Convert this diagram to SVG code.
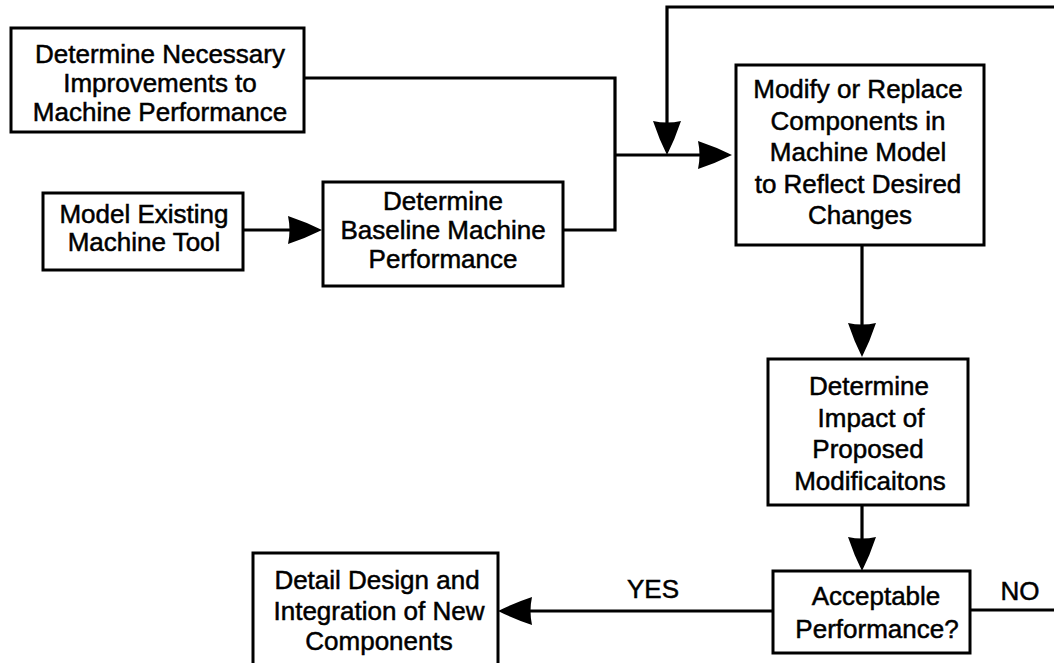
<svg xmlns="http://www.w3.org/2000/svg" width="1054" height="663" viewBox="0 0 1054 663">
  <style>
    .box { fill: #fff; stroke: #000; stroke-width: 3; }
    .lbl { font-family: "Liberation Sans", Arial, Helvetica, sans-serif; font-size: 26px; fill: #000; stroke: #000; stroke-width: 0.5; text-anchor: middle; }
    .wire { fill: none; stroke: #000; stroke-width: 3.2; }
  </style>
  <defs>
    <!-- filled arrowhead; refX sits 4px behind the tip so the line end is hidden -->
    <marker id="arrow" markerUnits="userSpaceOnUse" markerWidth="34" markerHeight="28" viewBox="0 0 34 28" refX="30" refY="14" orient="auto">
      <path d="M0,0 Q18,6 34,14 Q18,22 0,28 Q3,14 0,0 Z" fill="#000"/>
    </marker>
  </defs>
  <rect width="1054" height="663" fill="#fff"/>

  <g id="connectors">
    <!-- improvements + baseline merge into the modify step -->
    <path class="wire" d="M304,78 H615 V230 H563"/>
    <path class="wire" d="M615,155 H728" marker-end="url(#arrow)"/>
    <!-- feedback loop from the NO branch -->
    <path class="wire" d="M1056,7 H667 V151" marker-end="url(#arrow)"/>
    <!-- model existing -> baseline -->
    <path class="wire" d="M243,230 H318" marker-end="url(#arrow)"/>
    <!-- modify -> impact -->
    <path class="wire" d="M862,245 V353" marker-end="url(#arrow)"/>
    <!-- impact -> acceptable -->
    <path class="wire" d="M862,505 V567" marker-end="url(#arrow)"/>
    <!-- YES branch -->
    <path class="wire" d="M773,611 H502" marker-end="url(#arrow)"/>
    <!-- NO branch -->
    <path class="wire" d="M970,610 H1056"/>
    <text class="lbl" x="653" y="598">YES</text>
    <text class="lbl" x="1020" y="600">NO</text>
  </g>

  <g id="node-improvements">
    <rect class="box" x="11" y="28" width="293" height="104"/>
    <text class="lbl" x="160" y="63">Determine Necessary</text>
    <text class="lbl" x="160" y="92">Improvements to</text>
    <text class="lbl" x="160" y="121">Machine Performance</text>
  </g>

  <g id="node-model">
    <rect class="box" x="43" y="193" width="200" height="77"/>
    <text class="lbl" x="144" y="223">Model Existing</text>
    <text class="lbl" x="144" y="251">Machine Tool</text>
  </g>

  <g id="node-baseline">
    <rect class="box" x="323" y="182" width="240" height="104"/>
    <text class="lbl" x="443" y="210">Determine</text>
    <text class="lbl" x="443" y="239">Baseline Machine</text>
    <text class="lbl" x="443" y="268">Performance</text>
  </g>

  <g id="node-modify">
    <rect class="box" x="736" y="65" width="248" height="180"/>
    <text class="lbl" x="858" y="98">Modify or Replace</text>
    <text class="lbl" x="858" y="130">Components in</text>
    <text class="lbl" x="858" y="161">Machine Model</text>
    <text class="lbl" x="858" y="193">to Reflect Desired</text>
    <text class="lbl" x="860" y="224">Changes</text>
  </g>

  <g id="node-impact">
    <rect class="box" x="768" y="359" width="200" height="146"/>
    <text class="lbl" x="869" y="395">Determine</text>
    <text class="lbl" x="871" y="427">Impact of</text>
    <text class="lbl" x="868" y="458">Proposed</text>
    <text class="lbl" x="870" y="490">Modificaitons</text>
  </g>

  <g id="node-acceptable">
    <rect class="box" x="773" y="571" width="197" height="82"/>
    <text class="lbl" x="876" y="605">Acceptable</text>
    <text class="lbl" x="877" y="638">Performance?</text>
  </g>

  <g id="node-detail">
    <rect class="box" x="253" y="553" width="245" height="130"/>
    <text class="lbl" x="377" y="589">Detail Design and</text>
    <text class="lbl" x="379" y="620">Integration of New</text>
    <text class="lbl" x="379" y="650">Components</text>
  </g>
</svg>
